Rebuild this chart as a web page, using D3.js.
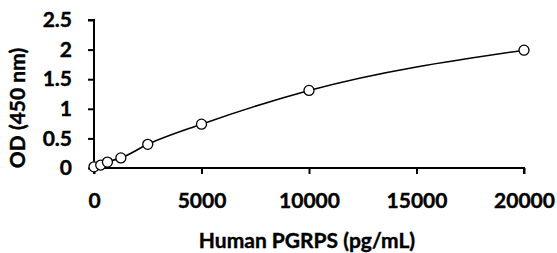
<!DOCTYPE html>
<html>
<script src="https://d3js.org/d3.v7.min.js"></script>
<style>
  body { margin: 0; background: white; }
  text { font-family: Lato, "Open Sans", sans-serif; font-weight: bold; fill: #000; stroke: #000; stroke-width: 0.4px; }
</style>
<body>
<svg width="557" height="253"></svg>
<script>
// standard curve points
const conc = [0, 312.5, 625, 1250, 2500, 5000, 10000, 20000];
const od = [0.02, 0.05, 0.1, 0.17, 0.4, 0.74, 1.31, 1.99];
const xTicks = [0, 5000, 10000, 15000, 20000];
const yTicks = [0, 0.5, 1, 1.5, 2, 2.5];

const svg = d3.select('svg');
const x = d3.scaleLinear().domain([0, 20000]).range([94, 524]);
const y = d3.scaleLinear().domain([0, 2.5]).range([168, 20]);

// y axis
const ya = svg.append('g').attr('transform', 'translate(94,0)')
  .call(d3.axisLeft(y).tickValues(yTicks).tickSize(6).tickPadding(16).tickFormat(d3.format('')));
ya.select('.domain').attr('stroke', '#000').attr('stroke-width', 2).attr('d', 'M-6,' + y(2.5) + 'H0V' + y(0));

// x axis
const xa = svg.append('g').attr('transform', 'translate(0,168)')
  .call(d3.axisBottom(x).tickValues(xTicks).tickSize(6).tickPadding(19).tickFormat(d3.format('')));
xa.select('.domain').attr('stroke', '#000').attr('stroke-width', 2).attr('d', 'M' + x(0) + ',6V0H' + x(20000) + 'V6');

svg.selectAll('.tick line').attr('stroke', '#000').attr('stroke-width', 2);
svg.selectAll('.tick text').style('font-size', '21px').attr('fill', '#000');

// fitted curve
const pts = conc.map((c, i) => [c, od[i]]);
svg.append('path').datum(pts)
  .attr('fill', 'none').attr('stroke', '#000').attr('stroke-width', 1.6)
  .attr('d', d3.line().x(d => x(d[0])).y(d => y(d[1])).curve(d3.curveMonotoneX));

svg.selectAll('circle.pt').data(pts).enter().append('circle')
  .attr('class', 'pt')
  .attr('cx', d => x(d[0])).attr('cy', d => y(d[1])).attr('r', 5)
  .attr('fill', 'white').attr('stroke', '#000').attr('stroke-width', 1.3);

// axis titles
svg.append('text').attr('x', 307).attr('y', 248).attr('text-anchor', 'middle')
  .style('font-size', '21px').text('Human PGRPS (pg/mL)');
svg.append('text').attr('transform', 'translate(25,108) rotate(-90)').attr('text-anchor', 'middle')
  .style('font-size', '21px').text('OD (450 nm)');
</script>
</body>
</html>
